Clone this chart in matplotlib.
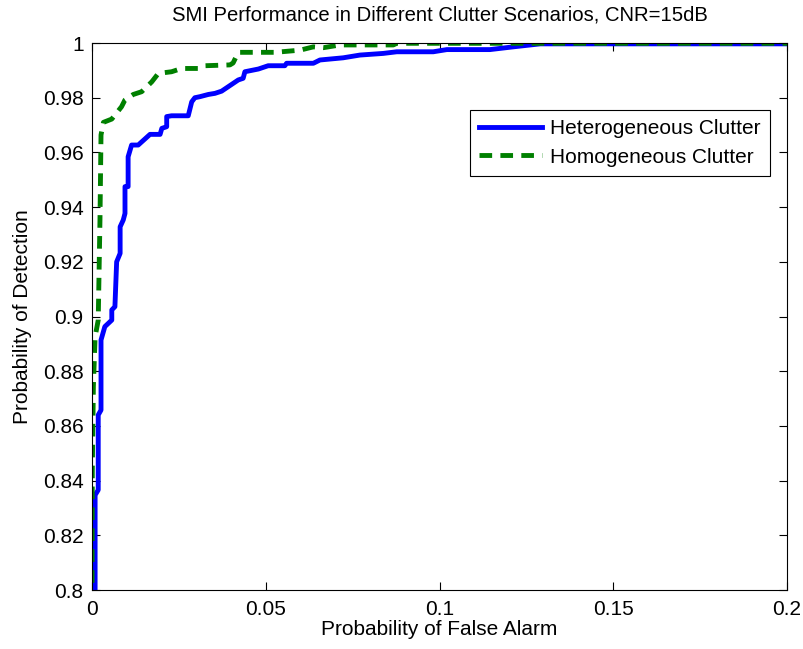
import matplotlib
matplotlib.use('Agg')
import matplotlib.pyplot as plt
import numpy as np

plt.rcParams['font.family'] = ['Liberation Sans', 'DejaVu Sans']

# Heterogeneous clutter ROC
pfa_het = [0.0009, 0.0009, 0.0018, 0.0018, 0.0026, 0.0026, 0.0037, 0.0057, 0.0057,
           0.0066, 0.0071, 0.0081, 0.0081, 0.0090, 0.0095, 0.0095, 0.0104, 0.0104,
           0.0114, 0.0133, 0.0167, 0.0196, 0.0201, 0.0215, 0.0215, 0.0229, 0.0277,
           0.0287, 0.0296, 0.0311, 0.0335, 0.0354, 0.0373, 0.0421, 0.0435, 0.0440,
           0.0479, 0.0507, 0.0555, 0.0560, 0.0637, 0.0656, 0.0723, 0.0771, 0.0838,
           0.0877, 0.0982, 0.1021, 0.1145, 0.1212, 0.1290, 0.2000]
pd_het = [0.795, 0.8347, 0.8366, 0.8640, 0.8658, 0.8914, 0.8963, 0.8987, 0.9024,
          0.9036, 0.9200, 0.9231, 0.9328, 0.9353, 0.9377, 0.9475, 0.9475, 0.9584,
          0.9627, 0.9627, 0.9666, 0.9666, 0.9688, 0.9694, 0.9731, 0.9734, 0.9734,
          0.9785, 0.9800, 0.9804, 0.9812, 0.9816, 0.9824, 0.9865, 0.9871, 0.9895,
          0.9905, 0.9917, 0.9917, 0.9926, 0.9926, 0.9938, 0.9946, 0.9956, 0.9962,
          0.9968, 0.9968, 0.9976, 0.9976, 0.9986, 0.9997, 0.9997]

# Homogeneous clutter ROC
pfa_hom = [0.0000, 0.0001, 0.0004, 0.0009, 0.0018, 0.0023, 0.0026, 0.0033, 0.0057,
           0.0085, 0.0095, 0.0119, 0.0143, 0.0172, 0.0191, 0.0229, 0.0258, 0.0306,
           0.0325, 0.0397, 0.0406, 0.0421, 0.0527, 0.0599, 0.0637, 0.0666, 0.0714,
           0.0867, 0.0877, 0.2000]
pd_hom = [0.795, 0.8440, 0.8743, 0.8926, 0.8987, 0.9353, 0.9664, 0.9710, 0.9722,
          0.9767, 0.9792, 0.9812, 0.9822, 0.9858, 0.9889, 0.9895, 0.9907, 0.9907,
          0.9917, 0.9920, 0.9927, 0.9966, 0.9966, 0.9974, 0.9986, 0.9983, 0.9993,
          0.9993, 0.9999, 0.9999]

x_ticks = [0, 0.05, 0.1, 0.15, 0.2]
x_labels = ['0', '0.05', '0.1', '0.15', '0.2']
y_labels = ['0.8', '0.82', '0.84', '0.86', '0.88', '0.9', '0.92', '0.94',
            '0.96', '0.98', '1']

fs = 15

fig = plt.figure(figsize=(8.04, 6.49), dpi=100)
ax = fig.add_axes([0.1144, 0.0909, 0.8645, 0.8428])

ax.plot(pfa_het, pd_het, color='#0000ff', linewidth=3.5, label='Heterogeneous Clutter')
ax.plot(pfa_hom, pd_hom, color='#008000', linewidth=3.5, linestyle=(0, (2.6, 1.7)),
        label='Homogeneous Clutter')

ax.set_xlim(0, 0.2)
ax.set_ylim(0.8, 1.0)
ax.set_xticks(x_ticks)
ax.set_xticklabels(x_labels)
ax.set_yticks(np.linspace(0.8, 1.0, 11))
ax.set_yticklabels(y_labels)
ax.tick_params(direction='in', top=True, right=True, labelsize=fs, length=6, width=0.8)
ax.tick_params(axis='x', pad=7)
ax.tick_params(axis='y', pad=6)
for s in ax.spines.values():
    s.set_linewidth(0.8)

ax.set_xlabel('Probability of False Alarm', fontsize=fs, labelpad=1)
ax.set_ylabel('Probability of Detection', fontsize=fs, labelpad=8)
ax.set_title('SMI Performance in Different Clutter Scenarios, CNR=15dB', fontsize=14.6, pad=16)

leg = ax.legend(loc='upper right', bbox_to_anchor=(0.9755, 0.8775), fontsize=fs,
                handlelength=3.0, handletextpad=0.4, borderpad=0.45, labelspacing=0.45,
                fancybox=False, framealpha=1, borderaxespad=0)
leg.get_frame().set_edgecolor('black')
leg.get_frame().set_linewidth(0.8)

plt.savefig('out.png', dpi=100)
